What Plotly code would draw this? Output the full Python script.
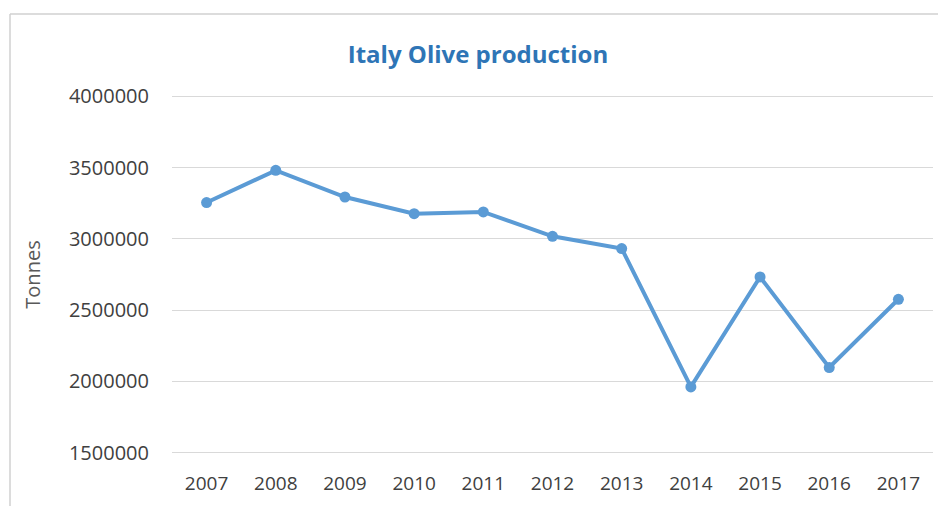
import plotly.graph_objects as go

years = ["2007", "2008", "2009", "2010", "2011", "2012", "2013", "2014", "2015", "2016", "2017"]
production = [3255000, 3481000, 3294000, 3177000, 3189000, 3018000, 2932000, 1961000, 2733000, 2097000, 2576000]
y_ticks = [1500000, 2000000, 2500000, 3000000, 3500000, 4000000]

W, H = 938, 506
ML, MR, MT, MB = 172, 5, 95, 52
pw = W - ML - MR
ph = H - MT - MB

def px_x(px):
    return (px - ML) / pw

def px_y(py):
    return (H - MB - py) / ph

fig = go.Figure()
fig.add_trace(go.Scatter(
    x=years, y=production, mode="lines+markers",
    line=dict(color="#5B9BD5", width=4),
    marker=dict(color="#5B9BD5", size=11),
    showlegend=False,
))

font_family = "Open Sans"
fig.update_layout(
    width=W, height=H,
    margin=dict(l=ML, r=MR, t=MT, b=MB),
    paper_bgcolor="white", plot_bgcolor="white",
    title=dict(text="<b>Italy Olive production</b>", x=px_x(478), xref="paper", xanchor="center",
               y=1 - 55 / H, yanchor="middle",
               font=dict(family=font_family, size=24, color="#2E75B6")),
    font=dict(family=font_family, color="#404040"),
    xaxis=dict(type="category", range=[-0.5, len(years) - 0.5], showgrid=False, showline=False,
               zeroline=False, ticks="", tickfont=dict(size=19, color="#404040"),
               ticklabelstandoff=16),
    yaxis=dict(range=[1490000, 4010000], tickvals=y_ticks, ticktext=[str(v) for v in y_ticks],
               showgrid=True, gridcolor="#D9D9D9", gridwidth=1, zeroline=False, showline=False,
               ticks="", tickfont=dict(size=20, color="#404040"), ticklabelstandoff=22,
               title=dict(text="Tonnes", font=dict(size=20, color="#595959"), standoff=22)),
)
fig.add_shape(type="line", xref="paper", yref="paper", x0=px_x(10), x1=px_x(938), y0=px_y(14), y1=px_y(14),
              line=dict(color="#D0D0D0", width=1.5))
fig.add_shape(type="line", xref="paper", yref="paper", x0=px_x(10), x1=px_x(10), y0=px_y(14), y1=px_y(506),
              line=dict(color="#D0D0D0", width=1.5))

fig.write_html("out.html", config={"displayModeBar": False},
               post_script="document.body.style.margin='0';document.body.style.padding='0';")
